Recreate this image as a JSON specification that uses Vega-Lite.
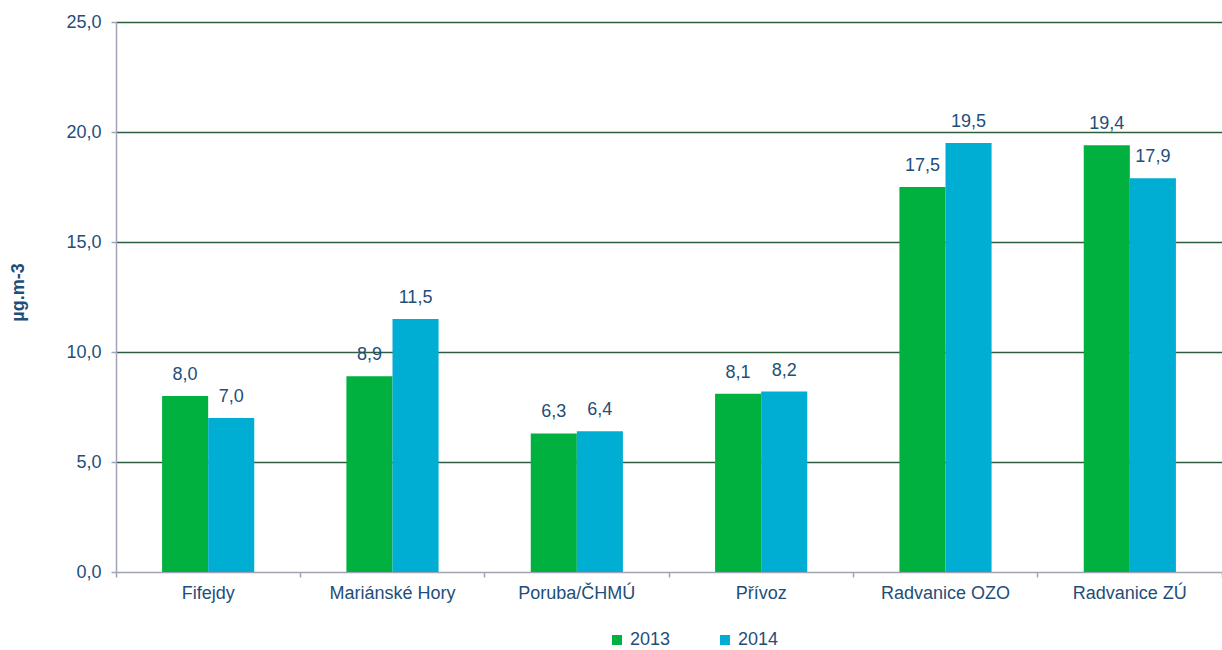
{
  "$schema": "https://vega.github.io/schema/vega-lite/v6.json",
  "width": 1106,
  "height": 550,
  "autosize": {"type": "none"},
  "padding": {"left": 116, "top": 22, "right": 0, "bottom": 78},
  "background": "white",
  "config": {
    "font": "Liberation Sans",
    "view": {"stroke": null},
    "axis": {"labelColor": "#1F4E79", "titleColor": "#1F4E79", "labelFont": "Liberation Sans", "titleFont": "Liberation Sans"}
  },
  "data": {
    "values": [
      {"stanice": "Fifejdy", "rok": "2013", "hodnota": 8.0},
      {"stanice": "Fifejdy", "rok": "2014", "hodnota": 7.0},
      {"stanice": "Mariánské Hory", "rok": "2013", "hodnota": 8.9},
      {"stanice": "Mariánské Hory", "rok": "2014", "hodnota": 11.5},
      {"stanice": "Poruba/ČHMÚ", "rok": "2013", "hodnota": 6.3},
      {"stanice": "Poruba/ČHMÚ", "rok": "2014", "hodnota": 6.4},
      {"stanice": "Přívoz", "rok": "2013", "hodnota": 8.1},
      {"stanice": "Přívoz", "rok": "2014", "hodnota": 8.2},
      {"stanice": "Radvanice OZO", "rok": "2013", "hodnota": 17.5},
      {"stanice": "Radvanice OZO", "rok": "2014", "hodnota": 19.5},
      {"stanice": "Radvanice ZÚ", "rok": "2013", "hodnota": 19.4},
      {"stanice": "Radvanice ZÚ", "rok": "2014", "hodnota": 17.9}
    ]
  },
  "transform": [
    {"calculate": "replace(format(datum.hodnota, '.1f'), '.', ',')", "as": "popisek"}
  ],
  "encoding": {
    "x": {
      "field": "stanice",
      "type": "nominal",
      "sort": null,
      "scale": {"paddingInner": 0, "paddingOuter": 0},
      "axis": {
        "title": null,
        "labelAngle": 0,
        "labelFontSize": 18,
        "labelPadding": 7,
        "bandPosition": 1,
        "tickExtra": true,
        "tickSize": 5,
        "tickColor": "#A0A4B4",
        "domainColor": "#A0A4B4",
        "domainWidth": 1.5,
        "tickWidth": 1.5,
        "grid": false
      }
    },
    "xOffset": {
      "field": "rok",
      "type": "nominal",
      "scale": {"paddingInner": 0, "paddingOuter": 1}
    },
    "y": {
      "field": "hodnota",
      "type": "quantitative",
      "scale": {"domain": [0, 25], "nice": false},
      "axis": {
        "title": "µg.m-3",
        "titleFontSize": 18,
        "titleFontWeight": "bold",
        "titleX": -98,
        "titleY": 270,
        "titleAngle": -90,
        "titleBaseline": "middle",
        "titleAlign": "center",
        "values": [0, 5, 10, 15, 20, 25],
        "labelExpr": "replace(format(datum.value, '.1f'), '.', ',')",
        "labelFontSize": 18,
        "labelPadding": 10,
        "tickSize": 5,
        "tickColor": "#A0A4B4",
        "tickWidth": 1.5,
        "domainColor": "#A0A4B4",
        "domainWidth": 1.5,
        "grid": true,
        "gridColor": "#2F5E3E",
        "gridWidth": 1.5,
        "gridOpacity": {"condition": {"test": "datum.value === 0", "value": 0}, "value": 1}
      }
    }
  },
  "layer": [
    {
      "mark": {"type": "bar"},
      "encoding": {
        "color": {
          "field": "rok",
          "type": "nominal",
          "scale": {"domain": ["2013", "2014"], "range": ["#00B140", "#00AED4"]},
          "legend": {
            "title": null,
            "orient": "none",
            "legendX": 492,
            "legendY": 609,
            "direction": "horizontal",
            "symbolType": "square",
            "symbolSize": 100,
            "symbolStrokeWidth": 0,
            "labelFontSize": 18,
            "labelColor": "#1F4E79",
            "labelOffset": 4,
            "columnPadding": 45
          }
        }
      }
    },
    {
      "mark": {"type": "text", "baseline": "alphabetic", "dy": -16, "fontSize": 18, "color": "#1F4E79"},
      "encoding": {
        "text": {"field": "popisek"}
      }
    }
  ]
}
